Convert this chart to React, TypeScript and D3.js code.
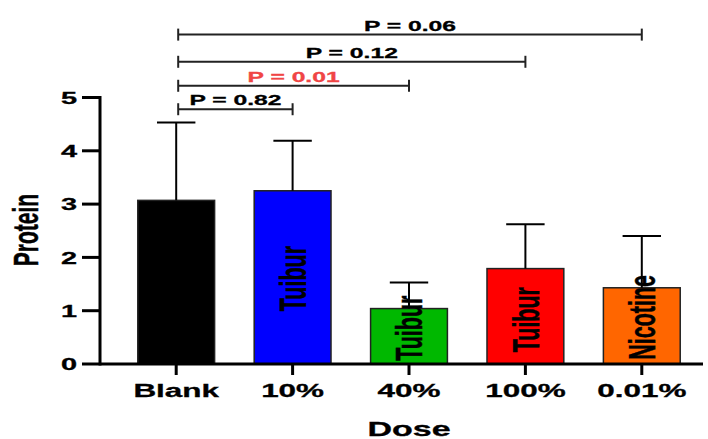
import React, { useMemo } from "react";
import * as d3 from "d3";

// data
const doses = ["Blank", "10%", "40%", "100%", "0.01%"];
const means = [3.07, 3.25, 1.04, 1.79, 1.43];
const sds = [1.46, 0.94, 0.49, 0.83, 0.97];
const barColors = ["#000000", "#0000ff", "#00b800", "#ff0000", "#ff6600"];
const barLabels = ["", "Tuibur", "Tuibur", "Tuibur", "Nicotine"];
const barLabelStart = [0, 0.99, 0.06, 0.22, 0.08];
const yTicks = [0, 1, 2, 3, 4, 5];

// comparisons against Blank
const compTo = ["10%", "40%", "100%", "0.01%"];
const compP = ["P = 0.82", "P = 0.01", "P = 0.12", "P = 0.06"];
const compLevel = [4.78, 5.22, 5.67, 6.18];
const compColor = ["#000", "#f04545", "#000", "#000"];

const W = 708;
const H = 439;
const AXIS_X = 100;
const AXIS_Y = 364;
const SX = 1.7; // the picture is stretched sideways
const FONT = "'Liberation Sans', Arial, sans-serif";

const App = () => {
    const x = useMemo(() => d3.scaleBand<string>()
        .domain(doses)
        .range([118, 700])
        .paddingInner(0.34)
        .paddingOuter(0.17), []);

    const y = useMemo(() => d3.scaleLinear()
        .domain([0, 5])
        .range([AXIS_Y, 97.5]), []);

    const bw = x.bandwidth();
    const cx = (d: string) => (x(d) || 0) + bw / 2;

    // stretched text helper
    const sText = (tx: number, ty: number, s: string, size: number, opts: any = {}) => (
        <g transform={`translate(${tx},${ty}) scale(${SX},1)${opts.rotate ? " rotate(-90)" : ""}`}>
            <text
                x={0}
                y={0}
                dy={opts.dy || 0}
                textAnchor={opts.anchor || "middle"}
                fontFamily={FONT}
                fontWeight="bold"
                fontSize={size}
                fill={opts.fill || "#000"}
                stroke={opts.fill || "#000"}
                strokeWidth={0.3}
            >
                {s}
            </text>
        </g>
    );

    return (
        <svg width={W} height={H} style={{ position: "absolute", left: 0, top: 0, background: "#fff" }}>
            {/* bars */}
            {doses.map((d, i) => (
                <rect
                    key={d}
                    x={x(d)}
                    y={y(means[i])}
                    width={bw}
                    height={y(0) - y(means[i])}
                    fill={barColors[i]}
                    stroke="#222"
                    strokeWidth={1.5}
                />
            ))}

            {/* error bars, upper only */}
            {doses.map((d, i) => (
                <g key={"e" + d} stroke="#000" strokeWidth={2}>
                    <line x1={cx(d)} x2={cx(d)} y1={y(means[i])} y2={y(means[i] + sds[i])} />
                    <line x1={cx(d) - bw / 4} x2={cx(d) + bw / 4} y1={y(means[i] + sds[i])} y2={y(means[i] + sds[i])} />
                </g>
            ))}

            {/* labels inside bars */}
            {doses.map((d, i) => barLabels[i]
                ? <g key={"l" + d}>{sText(cx(d), y(barLabelStart[i]), barLabels[i], 21.5, { rotate: true, anchor: "start", dy: "0.36em" })}</g>
                : null)}

            {/* y axis */}
            <line x1={AXIS_X} x2={AXIS_X} y1={y(5) - 1.5} y2={AXIS_Y + 1.5} stroke="#000" strokeWidth={3} />
            {yTicks.map(t => (
                <g key={"y" + t}>
                    <line x1={AXIS_X - 18} x2={AXIS_X} y1={y(t)} y2={y(t)} stroke="#000" strokeWidth={3} />
                    {sText(77, y(t), String(t), 17, { anchor: "end", dy: "0.36em" })}
                </g>
            ))}

            {/* x axis */}
            <line x1={AXIS_X} x2={703} y1={AXIS_Y} y2={AXIS_Y} stroke="#000" strokeWidth={3} />
            {doses.map(d => (
                <g key={"x" + d}>
                    <line x1={cx(d)} x2={cx(d)} y1={AXIS_Y} y2={AXIS_Y + 11} stroke="#000" strokeWidth={3} />
                    {sText(cx(d), 396.5, d, 18.5)}
                </g>
            ))}

            {/* axis titles */}
            {sText(409, 435.5, "Dose", 20)}
            {sText(25, 230, "Protein", 21, { rotate: true, dy: "0.36em" })}

            {/* significance brackets */}
            {compTo.map((d, i) => {
                const x0 = cx("Blank") + 2;
                const x1 = cx(d);
                const yy = y(compLevel[i]);
                return (
                    <g key={"c" + d}>
                        <g stroke="#222" strokeWidth={2}>
                            <line x1={x0} x2={x1} y1={yy} y2={yy} />
                            <line x1={x0} x2={x0} y1={yy - 6} y2={yy + 6} />
                            <line x1={x1} x2={x1} y1={yy - 6} y2={yy + 6} />
                        </g>
                        {sText((x0 + x1) / 2, yy - 4, compP[i], 14.5, { fill: compColor[i] })}
                    </g>
                );
            })}
        </svg>
    );
};

export default App;
